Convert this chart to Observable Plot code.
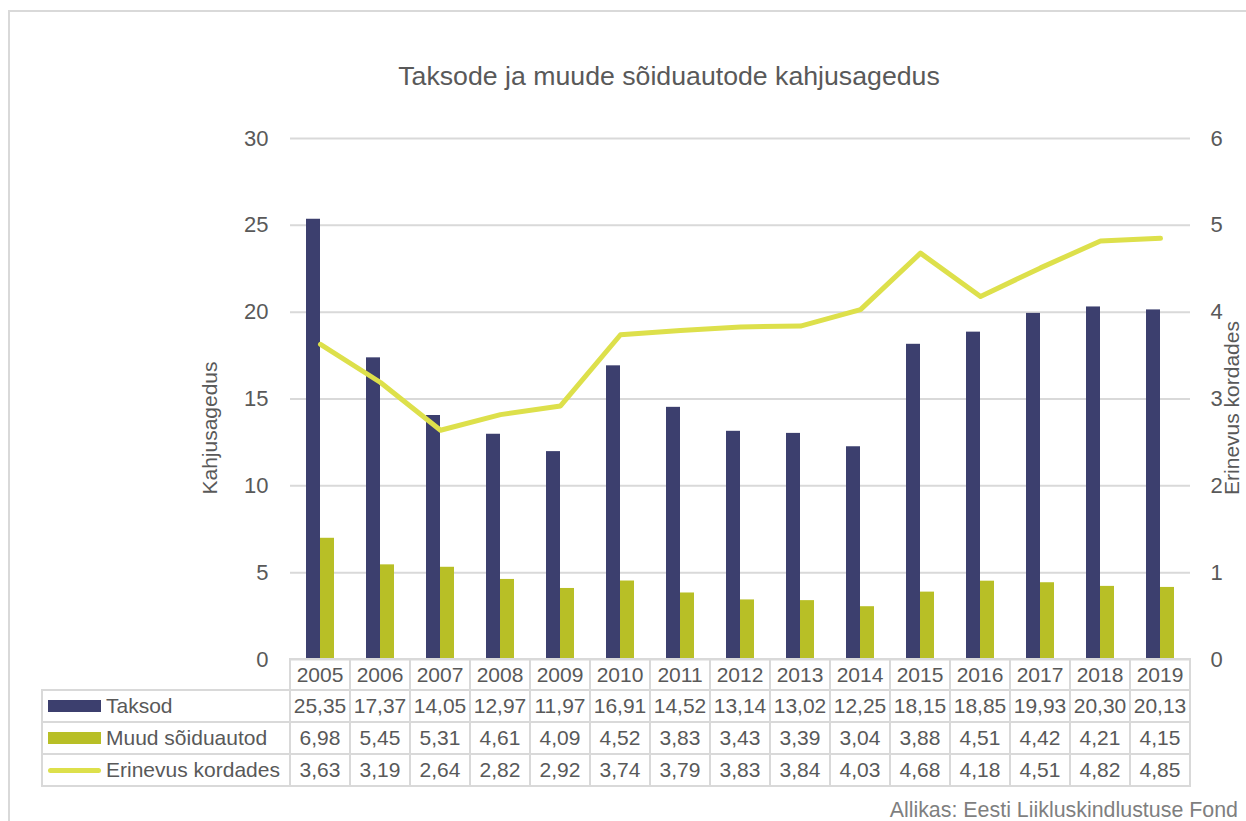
<!DOCTYPE html>
<html><head><meta charset="utf-8">
<script src="https://cdn.jsdelivr.net/npm/d3@7"></script>
<script src="https://cdn.jsdelivr.net/npm/@observablehq/plot@0.6"></script>
<style>
body{margin:0;background:#fff;font-family:"Liberation Sans",Arial,sans-serif;}
#wrap{position:relative;width:1246px;height:821px;overflow:hidden;background:#fff;}
#frame{position:absolute;left:8px;top:10px;width:1400px;height:1000px;border:2px solid #d9d9d9;}
#title{position:absolute;top:61px;left:669px;transform:translateX(-50%);white-space:nowrap;font-size:26.7px;color:#595959;line-height:30px;}
.ytitle{position:absolute;white-space:nowrap;font-size:21px;color:#595959;line-height:24px;transform:translate(-50%,-50%) rotate(-90deg);}
#chart{position:absolute;left:0;top:0;}
#tbl{position:absolute;border-collapse:collapse;table-layout:fixed;font-size:21px;color:#595959;}
#tbl td{border:2px solid #d9d9d9;padding:0;text-align:center;white-space:nowrap;overflow:visible;line-height:24px;}
#tbl td.blank{border-top-style:hidden;border-left-style:hidden;}
#tbl td.leg{text-align:left;padding-left:5px;}
.sw{display:inline-block;width:53px;height:12px;vertical-align:middle;margin-right:5px;position:relative;top:-1px;}
.swl{height:5px;border-radius:3px;}
#caption{position:absolute;right:8px;top:798px;font-size:21.4px;color:#7f7f7f;white-space:nowrap;line-height:24px;}
</style></head>
<body>
<div id="wrap">
  <div id="frame"></div>
  <div id="title"></div>
  <div id="chart"></div>
  <div class="ytitle" id="ylabL"></div>
  <div class="ytitle" id="ylabR"></div>
  <table id="tbl"></table>
  <div id="caption"></div>
</div>
<script>
const years = ["2005","2006","2007","2008","2009","2010","2011","2012","2013","2014","2015","2016","2017","2018","2019"];
const taksod = [25.35,17.37,14.05,12.97,11.97,16.91,14.52,13.14,13.02,12.25,18.15,18.85,19.93,20.30,20.13];
const muud = [6.98,5.45,5.31,4.61,4.09,4.52,3.83,3.43,3.39,3.04,3.88,4.51,4.42,4.21,4.15];
const erinevus = [3.63,3.19,2.64,2.82,2.92,3.74,3.79,3.83,3.84,4.03,4.68,4.18,4.51,4.82,4.85];
const seriesNames = ["Taksod","Muud sõiduautod","Erinevus kordades"];
const seriesColors = ["#3c3f6e","#b8bf26","#dde04b"];
const leftTicks = [0,5,10,15,20,25,30];
const rightTicks = [0,1,2,3,4,5,6];
const titleText = "Taksode ja muude sõiduautode kahjusagedus";
const leftLabel = "Kahjusagedus";
const rightLabel = "Erinevus kordades";
const captionText = "Allikas: Eesti Liikluskindlustuse Fond";

const ratio = leftTicks[leftTicks.length-1] / rightTicks[rightTicks.length-1];
const data = years.map((y,i)=>({year:y, taksod:taksod[i], muud:muud[i], erinevus:erinevus[i]}));

const W = 1246, H = 665, mL = 290, mR = 56, mT = 138, mB = 6;
const chart = Plot.plot({
  width: W, height: H, marginLeft: mL, marginRight: mR, marginTop: mT, marginBottom: mB,
  style: {fontFamily: "Liberation Sans, Arial, sans-serif", fontSize: "22px", color: "#595959", background: "transparent", overflow: "visible"},
  x: {type: "band", domain: years, paddingInner: 32/60, paddingOuter: 16/60, axis: null},
  y: {domain: [0, 30]},
  marks: [
    Plot.gridY(leftTicks, {stroke: "#d9d9d9", strokeOpacity: 1, strokeWidth: 2}),
    Plot.axisY(leftTicks, {anchor: "left", tickSize: 0, tickPadding: 22, label: null}),
    Plot.axisY(rightTicks.map(t => t*ratio), {anchor: "right", tickSize: 0, tickPadding: 20, tickFormat: d => d/ratio, label: null}),
    Plot.barY(data, {x: "year", y: "taksod", fill: seriesColors[0], insetRight: 14}),
    Plot.barY(data, {x: "year", y: "muud", fill: seriesColors[1], insetLeft: 14}),
    Plot.lineY(data, {x: "year", y: d => d.erinevus*ratio, stroke: seriesColors[2], strokeWidth: 5, strokeLinejoin: "round", strokeLinecap: "round"})
  ]
});
document.getElementById("chart").appendChild(chart);

document.getElementById("title").textContent = titleText;
document.getElementById("caption").textContent = captionText;
const yl = document.getElementById("ylabL");
yl.textContent = leftLabel; yl.style.left = "210px"; yl.style.top = "428px";
const yr = document.getElementById("ylabR");
yr.textContent = rightLabel; yr.style.left = "1232px"; yr.style.top = "408px";

// data table aligned to the band scale
const xs = chart.scale("x");
const step = xs.step;
const fmt = d3.format(".2f");
const comma = v => fmt(v).replace(".", ",");
const tbl = document.getElementById("tbl");
const legW = 248;
tbl.style.left = (mL - legW - 1) + "px";
tbl.style.top = (H - mB - 1) + "px";
let cg = "<colgroup><col style='width:"+legW+"px'>" + years.map(()=>"<col style='width:"+step+"px'>").join("") + "</colgroup>";
let html = cg + "<tr style='height:31px'><td class='blank'></td>" + years.map(y=>"<td>"+y+"</td>").join("") + "</tr>";
const rows = [taksod, muud, erinevus];
rows.forEach((vals, r) => {
  const sw = r === 2
    ? "<span class='sw swl' style='background:"+seriesColors[r]+"'></span>"
    : "<span class='sw' style='background:"+seriesColors[r]+"'></span>";
  html += "<tr style='height:32px'><td class='leg'>" + sw + seriesNames[r] + "</td>" + vals.map(v=>"<td>"+comma(v)+"</td>").join("") + "</tr>";
});
tbl.innerHTML = html;
tbl.style.width = (legW + step*years.length) + "px";
</script>
</body></html>
